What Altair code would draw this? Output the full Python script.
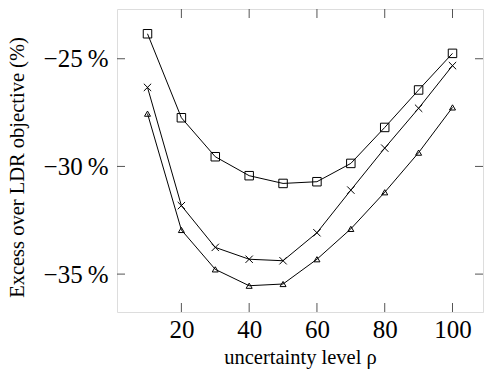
import altair as alt
import pandas as pd

rho = [10, 20, 30, 40, 50, 60, 70, 80, 90, 100]
squares = [-23.84, -27.74, -29.55, -30.43, -30.79, -30.71, -29.86, -28.19, -26.45, -24.75]
crosses = [-26.33, -31.82, -33.76, -34.31, -34.38, -33.08, -31.10, -29.15, -27.30, -25.32]
triangles = [-27.55, -32.95, -34.78, -35.54, -35.46, -34.31, -32.90, -31.20, -29.36, -27.26]

x_ticks = [20, 40, 60, 80, 100]
y_ticks = [-25, -30, -35]

series_names = ["squares", "crosses", "triangles"]
rows = []
for name, vals in zip(series_names, [squares, crosses, triangles]):
    for r, v in zip(rho, vals):
        rows.append({"rho": r, "val": v, "series": name})
df = pd.DataFrame(rows)

W, H = 366, 303
FONT = "Liberation Serif"

xs = alt.Scale(domain=[1, 109], nice=False, zero=False)
ys = alt.Scale(domain=[-36.76, -22.69], nice=False, zero=False)

x_enc = alt.X("rho:Q", scale=xs, axis=alt.Axis(
    values=x_ticks, title="uncertainty level ρ", grid=False, domain=False, ticks=False,
    labelFont=FONT, labelFontSize=25, labelColor="black", labelPadding=5,
    titleFont=FONT, titleFontSize=20.5, titleFontWeight="normal", titleColor="black",
    titleY=45, titleBaseline="middle"))
y_enc = alt.Y("val:Q", scale=ys, axis=alt.Axis(
    values=y_ticks, title="Excess over LDR objective (%)", grid=False, domain=False, ticks=False,
    labelExpr="'\u2212' + format(abs(datum.value), 'd') + '\u2009%'",
    labelFont=FONT, labelFontSize=25, labelColor="black", labelPadding=9,
    titleFont=FONT, titleFontSize=20.5, titleFontWeight="normal", titleColor="black",
    titleX=-100, titleY=158, titleAngle=-90, titleAlign="center", titleBaseline="middle"))

base = alt.Chart(df)

lines = base.mark_line(color="black", strokeWidth=1).encode(
    x=x_enc, y=y_enc, detail="series:N")

points = base.mark_point(filled=False, color="black", strokeWidth=1, opacity=1).encode(
    x=alt.X("rho:Q", scale=xs),
    y=alt.Y("val:Q", scale=ys),
    shape=alt.Shape("series:N", scale=alt.Scale(
        domain=series_names,
        range=["square", "M-1,-1L1,1M-1,1L1,-1", "triangle-up"]), legend=None),
    size=alt.Size("series:N", scale=alt.Scale(domain=series_names, range=[72, 36, 85]), legend=None),
)

xt = pd.DataFrame({"t": x_ticks})
yt = pd.DataFrame({"t": y_ticks})
TL = 9
tick_col = "#555555"
bx = alt.Chart(xt).mark_rule(color=tick_col, strokeWidth=1).encode(
    x=alt.X("t:Q", scale=xs), y=alt.value(H), y2=alt.value(H - TL))
tx = alt.Chart(xt).mark_rule(color=tick_col, strokeWidth=1).encode(
    x=alt.X("t:Q", scale=xs), y=alt.value(0), y2=alt.value(TL))
ly = alt.Chart(yt).mark_rule(color=tick_col, strokeWidth=1).encode(
    y=alt.Y("t:Q", scale=ys), x=alt.value(0), x2=alt.value(TL - 1))
ry = alt.Chart(yt).mark_rule(color=tick_col, strokeWidth=1).encode(
    y=alt.Y("t:Q", scale=ys), x=alt.value(W), x2=alt.value(W - TL + 1))

chart = alt.layer(lines, bx, tx, ly, ry, points).properties(
    width=W, height=H,
    autosize="none",
    padding={"left": 117, "top": 9, "right": 2, "bottom": 68},
).configure_view(stroke="black", strokeWidth=1.2).configure(background="white")

chart.save("out.html", embed_options={"renderer": "svg", "actions": False})
